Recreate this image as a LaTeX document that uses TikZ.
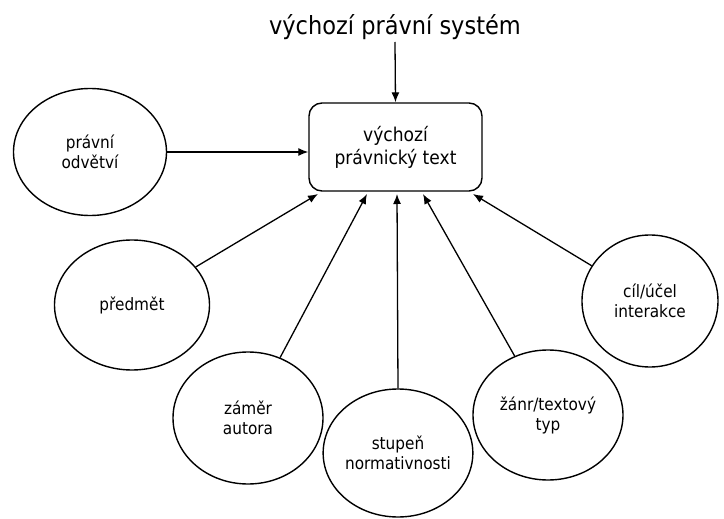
\documentclass[tikz,border=0pt]{standalone}
\usepackage{fontspec}
\setmainfont{DejaVu Sans Condensed}
\usetikzlibrary{shapes.geometric,arrows.meta}
\begin{document}
\begin{tikzpicture}[x=1pt,y=-1pt,
  every node/.style={font=\fontsize{17}{20}\selectfont},
  ell/.style={draw,ellipse,line width=1.4pt,inner sep=0pt,align=center},
  arr/.style={line width=1.3pt,-{Latex[length=10pt,width=8pt]}}]
\useasboundingbox (0,0) rectangle (724,519);
\node[font=\fontsize{25}{29}\selectfont] (title) at (395,27) {výchozí právní systém};
\node[draw,rounded corners=13pt,line width=1.4pt,minimum width=173pt,minimum height=88pt,align=center,font=\fontsize{19}{23}\selectfont] (box) at (395.5,147) {výchozí\\právnický text};
\node[ell,minimum width=153pt,minimum height=127pt] (odv) at (90,152) {právní\\odvětví};
\node[ell,minimum width=155pt,minimum height=130pt] (pred) at (132,305) {předmět};
\node[ell,minimum width=150pt,minimum height=132pt] (zam) at (248,418) {záměr\\autora};
\node[ell,minimum width=146pt,minimum height=128pt] (stup) at (398,453) {stupeň\\normativnosti};
\node[ell,minimum width=150pt,minimum height=130pt] (zanr) at (548,415) {žánr/textový\\typ};
\node[ell,minimum width=136pt,minimum height=132pt] (cil) at (650,301) {cíl/účel\\interakce};
\coordinate (t0) at (395,42);
\coordinate (b1) at (318,194);
\coordinate (b2) at (367,194);
\coordinate (b3) at (397,194);
\coordinate (b4) at (423,194);
\coordinate (b5) at (473,194);
\draw[arr] (t0) -- (box.north);
\draw[arr] (odv) -- (box.west |- odv);
\draw[arr] (pred) -- (b1);
\draw[arr] (zam) -- (b2);
\draw[arr] (stup.north) -- (b3);
\draw[arr] (zanr) -- (b4);
\draw[arr] (cil) -- (b5);
\end{tikzpicture}
\end{document}
